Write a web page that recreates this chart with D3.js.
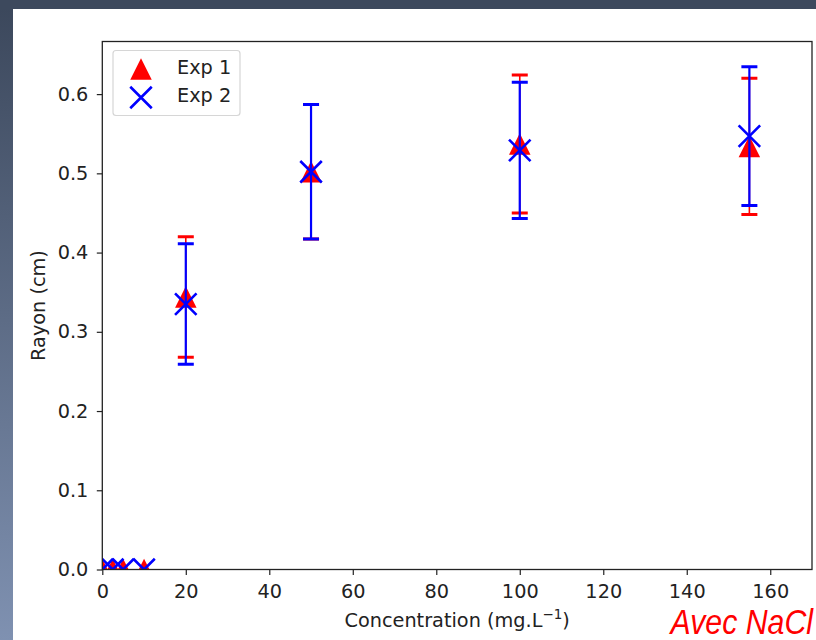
<!DOCTYPE html>
<html>
<head>
<meta charset="utf-8">
<script src="https://cdn.jsdelivr.net/npm/d3@7"></script>
<style>
  html, body { margin: 0; padding: 0; background: #fff; }
  svg { display: block; }
  text { font-family: "DejaVu Sans", sans-serif; }
</style>
</head>
<body>
<svg id="chart" width="816" height="640"></svg>
<script>
// Concentrations (mg/L) and measured radii (cm) with their error half-widths
const concentrations = [0, 2.5, 5, 10, 20, 50, 100, 155];
const exp1Values = [0, 0, 0, 0, 0.344, 0.502, 0.537, 0.534];
const exp1Errors = [0, 0, 0, 0, 0.076, 0.085, 0.087, 0.086];
const exp2Values = [0, 0, 0, 0, 0.335, 0.502, 0.529, 0.547];
const exp2Errors = [0, 0, 0, 0, 0.076, 0.085, 0.086, 0.0875];
const xTicks = [0, 20, 40, 60, 80, 100, 120, 140, 160];
const yTicks = [0.0, 0.1, 0.2, 0.3, 0.4, 0.5, 0.6];
const seriesNames = ["Exp 1", "Exp 2"];

const svg = d3.select("#chart");
const W = 816, H = 640;

// Slide background: dark frame at top and left, white panel
const defs = svg.append("defs");
const grad = defs.append("linearGradient").attr("id", "frameGrad")
  .attr("x1", 0).attr("y1", 0).attr("x2", 0).attr("y2", 1);
grad.append("stop").attr("offset", "0%").attr("stop-color", "#3b475b");
grad.append("stop").attr("offset", "100%").attr("stop-color", "#7f91b1");
svg.append("rect").attr("x", 0).attr("y", 0).attr("width", W).attr("height", H)
  .attr("fill", "url(#frameGrad)");
svg.append("rect").attr("x", 0).attr("y", 0).attr("width", W).attr("height", 10)
  .attr("fill", "#3d495d");
svg.append("rect").attr("x", 13).attr("y", 9).attr("width", W - 13).attr("height", H - 9)
  .attr("fill", "#ffffff");

// Plot area
const plotL = 102.3, plotR = 812, plotT = 41.5, plotB = 569.5;
const x = d3.scaleLinear().domain([0, 170]).range([plotL, plotR]);
const y = d3.scaleLinear().domain([0, 0.6664]).range([plotB, plotT]);

defs.append("clipPath").attr("id", "plotClip")
  .append("rect").attr("x", plotL).attr("y", plotT)
  .attr("width", plotR - plotL).attr("height", plotB - plotT);

const fontSize = 19.3;
const textColor = "#222";

const plot = svg.append("g").attr("clip-path", "url(#plotClip)");

const MS = 21.5; // marker size in px

function triPath(s) {
  const h = s / 2;
  return `M0,${-h}L${-h},${h}L${h},${h}Z`;
}
function crossPath(s) {
  const h = s / 2;
  return `M${-h},${-h}L${h},${h}M${-h},${h}L${h},${-h}`;
}

function drawSeries(values, errors, color, kind, lineW) {
  const g = plot.append("g");
  const pts = concentrations.map((c, i) => ({ c, v: values[i], e: errors[i] }));
  const withErr = pts.filter(d => d.e > 0);
  // vertical error lines
  g.selectAll("line.err").data(withErr).enter().append("line")
    .attr("x1", d => x(d.c)).attr("x2", d => x(d.c))
    .attr("y1", d => y(d.v - d.e)).attr("y2", d => y(d.v + d.e))
    .attr("stroke", color).attr("stroke-width", lineW);
  // caps
  [-1, 1].forEach(sign => {
    g.selectAll(null).data(withErr).enter().append("line")
      .attr("x1", d => x(d.c) - 8).attr("x2", d => x(d.c) + 8)
      .attr("y1", d => y(d.v + sign * d.e)).attr("y2", d => y(d.v + sign * d.e))
      .attr("stroke", color).attr("stroke-width", 3);
  });
  // markers
  const m = g.selectAll("path.mk").data(pts).enter().append("path")
    .attr("transform", d => `translate(${x(d.c)},${y(d.v)})`);
  if (kind === "tri") {
    m.attr("d", triPath(MS)).attr("fill", color);
  } else {
    m.attr("d", crossPath(MS)).attr("fill", "none")
      .attr("stroke", color).attr("stroke-width", 2.6);
  }
}

drawSeries(exp1Values, exp1Errors, "#ff0000", "tri", 1.6);
drawSeries(exp2Values, exp2Errors, "#0000ff", "cross", 2.2);

// Axes
const xAxis = svg.append("g").attr("transform", `translate(0,${plotB})`)
  .call(d3.axisBottom(x).tickValues(xTicks).tickFormat(d3.format("d"))
    .tickSize(5.5).tickSizeOuter(0).tickPadding(9.5));
const yAxis = svg.append("g").attr("transform", `translate(${plotL},0)`)
  .call(d3.axisLeft(y).tickValues(yTicks).tickFormat(d3.format(".1f"))
    .tickSize(5.5).tickSizeOuter(0).tickPadding(8.5));
[xAxis, yAxis].forEach(a => {
  a.select(".domain").remove();
  a.selectAll(".tick line").attr("stroke", "#222").attr("stroke-width", 1.2);
  a.selectAll(".tick text").attr("fill", textColor)
    .style("font-family", "'DejaVu Sans', sans-serif").style("font-size", fontSize + "px");
});

// Frame (spines)
svg.append("rect").attr("x", plotL).attr("y", plotT)
  .attr("width", plotR - plotL).attr("height", plotB - plotT)
  .attr("fill", "none").attr("stroke", "#222").attr("stroke-width", 1.3);

// Axis titles
const xLabel = svg.append("text").attr("x", (plotL + plotR) / 2).attr("y", 627)
  .attr("text-anchor", "middle").attr("fill", textColor)
  .style("font-size", fontSize + "px");
xLabel.append("tspan").text("Concentration (mg.L");
xLabel.append("tspan").attr("dy", -8).style("font-size", "13.5px").text("\u22121");
xLabel.append("tspan").attr("dy", 8).text(")");

svg.append("text").attr("transform", `translate(45,${(plotT + plotB) / 2}) rotate(-90)`)
  .attr("text-anchor", "middle").attr("fill", textColor)
  .style("font-size", fontSize + "px").text("Rayon (cm)");

// Legend
const lg = svg.append("g");
lg.append("rect").attr("x", 113).attr("y", 50.5).attr("width", 127).attr("height", 65)
  .attr("rx", 3).attr("fill", "#fff").attr("fill-opacity", 0.8)
  .attr("stroke", "#d6d6d6").attr("stroke-width", 1.2);
const legendRows = [
  { name: seriesNames[0], color: "#ff0000", kind: "tri", cy: 69, by: 74 },
  { name: seriesNames[1], color: "#0000ff", kind: "cross", cy: 97.5, by: 102 }
];
legendRows.forEach(r => {
  const p = lg.append("path").attr("transform", `translate(141,${r.cy})`);
  if (r.kind === "tri") p.attr("d", triPath(MS)).attr("fill", r.color);
  else p.attr("d", crossPath(MS)).attr("fill", "none").attr("stroke", r.color).attr("stroke-width", 2.6);
  lg.append("text").attr("x", 177).attr("y", r.by).attr("fill", textColor)
    .style("font-size", fontSize + "px").text(r.name);
});

// Annotation in a condensed italic face
svg.append("g").attr("transform", "translate(813,634) scale(0.865,1)")
  .append("text").attr("x", 0).attr("y", 0).attr("text-anchor", "end")
  .attr("fill", "#ff0000")
  .style("font-family", "'Liberation Sans', sans-serif")
  .style("font-style", "italic").style("font-size", "35px")
  .text("Avec NaCl");
</script>
</body>
</html>
